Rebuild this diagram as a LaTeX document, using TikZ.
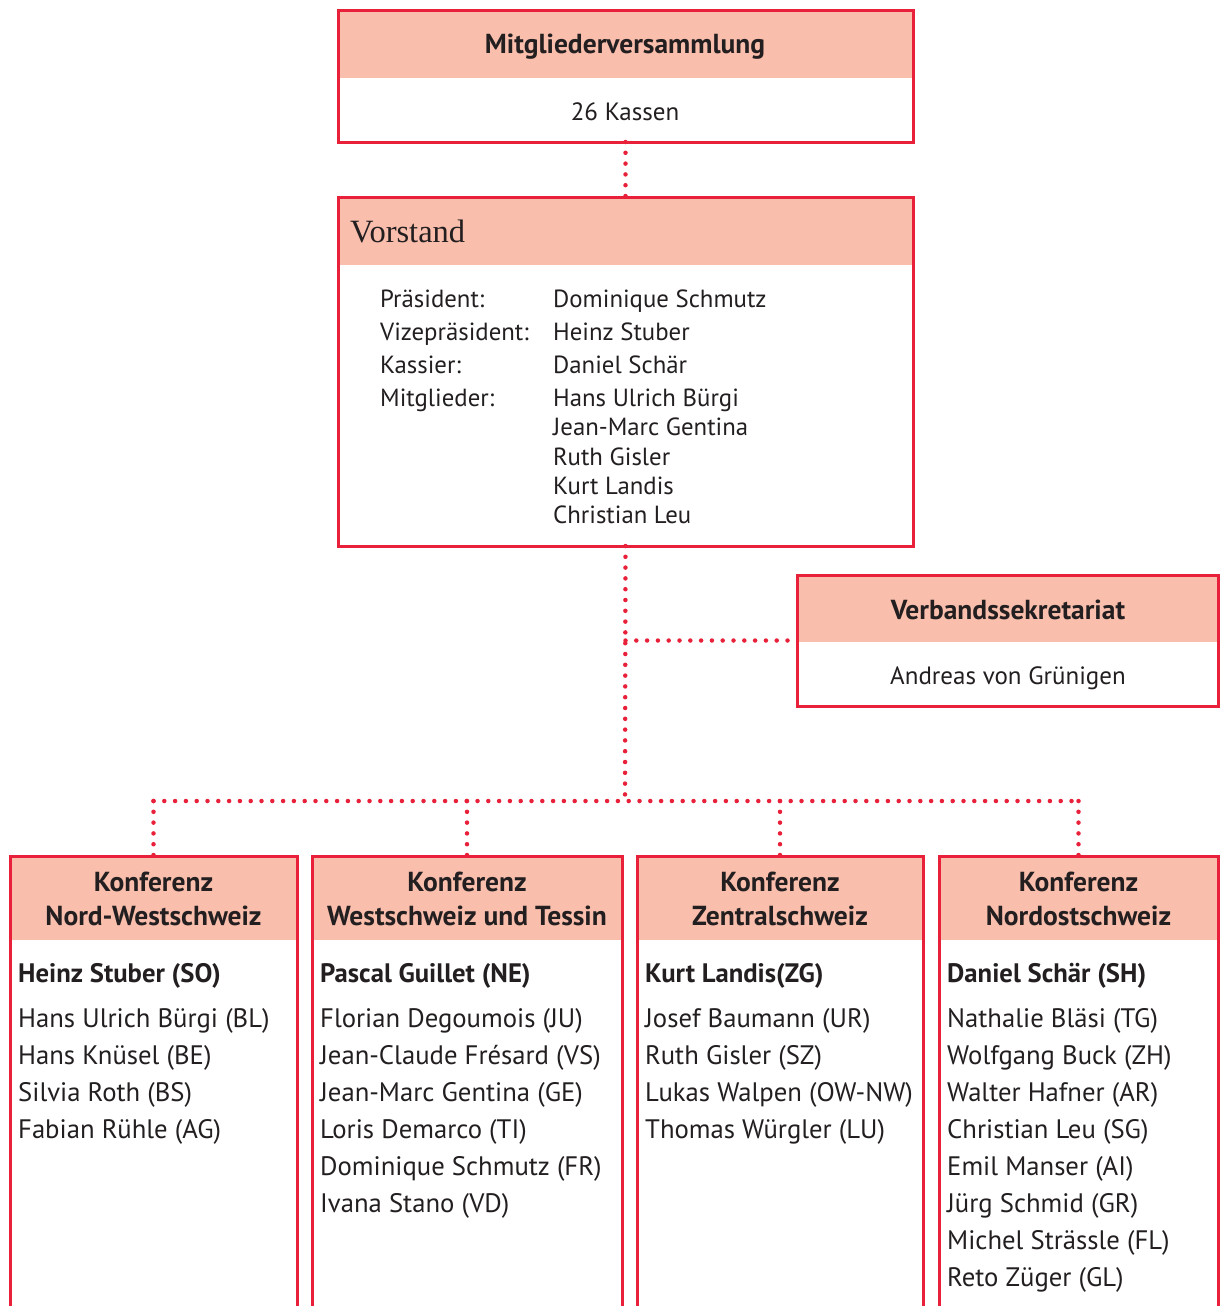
\documentclass[tikz,border=0pt]{standalone}
\usepackage{fontspec}
\setmainfont{PT Sans}
\newfontfamily\vserif{Liberation Serif}
\definecolor{rd}{HTML}{E8203A}
\definecolor{sal}{HTML}{F9BEAC}
\definecolor{ink}{HTML}{231F20}
\begin{document}
\begin{tikzpicture}[x=1pt,y=-1pt,
  frame/.style={draw=rd, line width=3pt, inner sep=0pt, outer sep=0pt, anchor=north west},
  conn/.style={draw=rd, line width=4.5pt, line cap=round, dash pattern=on 0pt off 10.8pt},
  toptxt/.style={text=ink, font=\fontsize{25}{30}\selectfont, inner sep=0pt, anchor=base},
  titletxt/.style={text=ink, font=\fontsize{27.5}{32}\selectfont\bfseries, inner sep=0pt, anchor=base},
  vtxt/.style={text=ink, font=\fontsize{24.8}{30}\selectfont, inner sep=0pt, anchor=base west},
  mtxt/.style={text=ink, font=\fontsize{26.7}{32}\selectfont, inner sep=0pt, anchor=base west},
  ltxt/.style={text=ink, font=\fontsize{26.7}{32}\selectfont\bfseries, inner sep=0pt, anchor=base west},
]
\path[use as bounding box, clip] (0,0) rectangle (1220,1306);
\fill[white] (0,0) rectangle (1220,1306);

% header fills
\fill[sal] (338,11) rectangle (913,78);
\fill[sal] (338,197) rectangle (913,265);
\fill[sal] (797,575) rectangle (1218,642);
\fill[sal] (10,856) rectangle (297,940);
\fill[sal] (312,856) rectangle (622,940);
\fill[sal] (637,856) rectangle (923,940);
\fill[sal] (939,856) rectangle (1218,940);

% boxes
\node[frame, minimum width=575pt, minimum height=131pt] (mv) at (338,11) {};
\node[frame, minimum width=575pt, minimum height=349pt] (vs) at (338,197) {};
\node[frame, minimum width=421pt, minimum height=131pt] (sek) at (797,575) {};
\node[frame, minimum width=287pt, minimum height=480pt] (k1) at (10,856) {};
\node[frame, minimum width=310pt, minimum height=480pt] (k2) at (312,856) {};
\node[frame, minimum width=286pt, minimum height=480pt] (k3) at (637,856) {};
\node[frame, minimum width=279pt, minimum height=480pt] (k4) at (939,856) {};

% connectors
\coordinate (hub) at (625,801);
\coordinate (j) at (vs.south |- sek.west);
\draw[conn] (mv.south) -- (vs.north);
\draw[conn] (vs.south) -- (hub);
\draw[conn] (j) -- (sek.west);
\draw[conn] (k1.north |- hub) -- (k4.north |- hub);
\draw[conn] (k1.north |- hub) -- (k1.north);
\draw[conn] (k2.north |- hub) -- (k2.north);
\draw[conn] (k3.north |- hub) -- (k3.north);
\draw[conn] (k4.north |- hub) -- (k4.north);

% top texts
\node[titletxt] (mvt) at (625,54) {Mitgliederversammlung};
\node[toptxt] (mvs) at (625,120) {26 Kassen};
\node[text=ink, inner sep=0pt, anchor=base west, font=\vserif\fontsize{32.5}{36}\selectfont] (vst) at (350,242) {Vorstand};
\node[titletxt] (sekt) at (1008,619) {Verbandssekretariat};
\node[toptxt] (seks) at (1008,684) {Andreas von Grünigen};

% Vorstand list
\foreach \l/\v/\y [count=\i] in {Präsident:/Dominique Schmutz/307, Vizepräsident:/Heinz Stuber/340, Kassier:/Daniel Schär/373, Mitglieder:/Hans Ulrich Bürgi/406}{
  \node[vtxt] (vl\i) at (380,\y) {\l};
  \node[vtxt] (vv\i) at (553,\y) {\v};
}
\foreach \v/\y [count=\i from 5] in {Jean-Marc Gentina/435, Ruth Gisler/465, Kurt Landis/494, Christian Leu/523}{
  \node[vtxt] (vv\i) at (553,\y) {\v};
}

% Konferenz titles
\foreach \c/\x/\a/\b in {1/153.5/Konferenz/Nord-Westschweiz, 2/467/Konferenz/Westschweiz und Tessin, 3/780/Konferenz/Zentralschweiz, 4/1078.5/Konferenz/Nordostschweiz}{
  \node[titletxt] (kt\c a) at (\x,891) {\a};
  \node[titletxt] (kt\c b) at (\x,925.5) {\b};
}

% Konferenz leads
\node[ltxt] (k1l) at (18,982) {Heinz Stuber (SO)};
\node[ltxt] (k2l) at (320,982) {Pascal Guillet (NE)};
\node[ltxt] (k3l) at (645,982) {Kurt Landis(ZG)};
\node[ltxt] (k4l) at (947,982) {Daniel Schär (SH)};

% members
\foreach \n [count=\i] in {Hans Ulrich Bürgi (BL), Hans Knüsel (BE), Silvia Roth (BS), Fabian Rühle (AG)}{
  \node[mtxt] (ka\i) at (18,{1027+37*(\i-1)}) {\n};
}
\foreach \n [count=\i] in {Florian Degoumois (JU), Jean-Claude Frésard (VS), Jean-Marc Gentina (GE), Loris Demarco (TI), Dominique Schmutz (FR), Ivana Stano (VD)}{
  \node[mtxt] (kb\i) at (320,{1027+37*(\i-1)}) {\n};
}
\foreach \n [count=\i] in {Josef Baumann (UR), Ruth Gisler (SZ), Lukas Walpen (OW-NW), Thomas Würgler (LU)}{
  \node[mtxt] (kc\i) at (645,{1027+37*(\i-1)}) {\n};
}
\foreach \n [count=\i] in {Nathalie Bläsi (TG), Wolfgang Buck (ZH), Walter Hafner (AR), Christian Leu (SG), Emil Manser (AI), Jürg Schmid (GR), Michel Strässle (FL), Reto Züger (GL)}{
  \node[mtxt] (kd\i) at (947,{1027+37.1*(\i-1)}) {\n};
}
\end{tikzpicture}
\end{document}
